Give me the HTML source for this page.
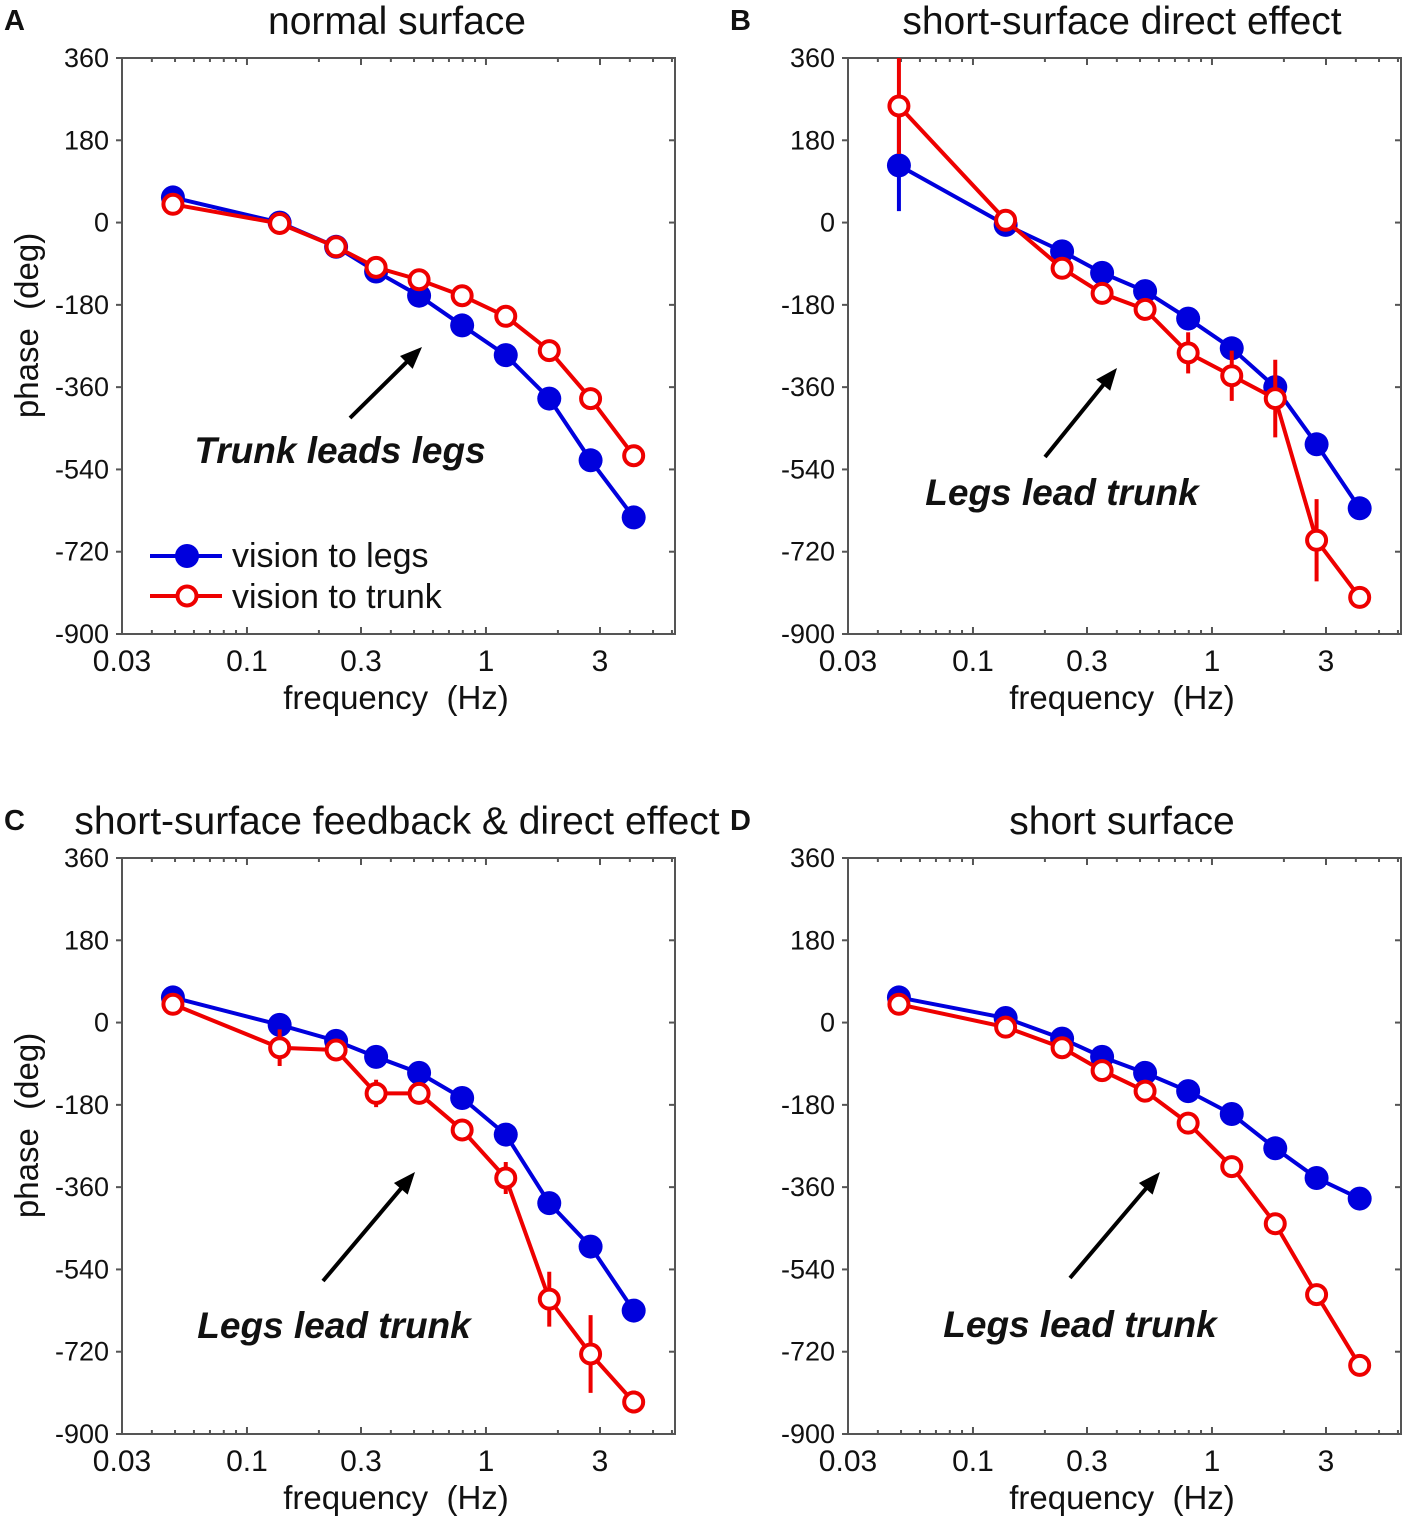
<!DOCTYPE html>
<html><head><meta charset="utf-8">
<style>
body{margin:0;background:#fff;}
svg{display:block;font-family:"Liberation Sans",Arial,sans-serif;}
text{white-space:pre;}
</style></head>
<body>
<svg id="fig" width="1417" height="1531" viewBox="0 0 1417 1531"></svg>
<script>
const freqs=[0.049,0.137,0.236,0.347,0.525,0.795,1.21,1.84,2.74,4.15];
const legsA=[55,0,-53,-107,-160,-225,-290,-385,-520,-645];
const trunkA=[40,-2,-53,-98,-125,-160,-205,-280,-385,-510];
const legsB=[125,-5,-63,-110,-150,-210,-275,-360,-485,-625];
const trunkB=[255,5,-100,-155,-190,-285,-335,-385,-695,-820];
const legsErrB=[100,0,0,0,0,0,0,0,0,0];
const trunkErrB=[105,0,0,0,0,45,55,85,90,0];
const legsC=[55,-5,-40,-75,-110,-165,-245,-395,-490,-630];
const trunkC=[40,-55,-60,-155,-155,-235,-340,-605,-725,-830];
const legsErrC=[0,0,0,0,0,0,0,0,25,0];
const trunkErrC=[0,40,0,30,0,0,35,60,85,25];
const legsD=[55,10,-35,-75,-110,-150,-200,-275,-340,-385];
const trunkD=[40,-10,-55,-105,-150,-220,-315,-440,-595,-750];
const zeros=[0,0,0,0,0,0,0,0,0,0];
const yTicks=[360,180,0,-180,-360,-540,-720,-900];
const xTicks=[0.03,0.1,0.3,1,3];
const xTickLabels=["0.03","0.1","0.3","1","3"];

const NS="http://www.w3.org/2000/svg";
const svg=document.getElementById('fig');
function el(tag,attrs,parent,text){const e=document.createElementNS(NS,tag);for(const k in attrs)e.setAttribute(k,attrs[k]);if(text!==undefined)e.textContent=text;(parent||svg).appendChild(e);return e;}

function panel(cfg){
  const g=el('g',{});
  
  
  const L=cfg.x0,T=cfg.y0,R=L+553,B=T+576;
  const xs=f=>L+239*Math.log10(f/0.03);
  const ys=v=>T+(360-v)*576/1260;
  const box=el('rect',{x:L,y:T,width:R-L,height:B-T,fill:'none',stroke:'#555','stroke-width':2},g);
  
  yTicks.forEach(v=>{
    const y=ys(v);
    el('line',{x1:L-6,x2:L,y1:y,y2:y,stroke:'#555','stroke-width':2},g);
    el('line',{x1:R-6,x2:R,y1:y,y2:y,stroke:'#555','stroke-width':2},g);
    const t=el('text',{x:L-13,y:y+9,'text-anchor':'end','font-size':27,fill:'#111'},g,String(v));
    
  });
  for(let d=0.01;d<10;d*=10){for(let m=1;m<10;m++){const f=d*m;if(f<0.03||f>6.1)continue;const x=xs(f);const major=(m===1||m===3);const len=major?7:4;
    el('line',{x1:x,x2:x,y1:B,y2:B-len,stroke:'#555','stroke-width':2},g);
    el('line',{x1:x,x2:x,y1:T,y2:T+len,stroke:'#555','stroke-width':2},g);}}
  xTicks.forEach((f,i)=>{
    const t=el('text',{x:xs(f),y:B+37,'text-anchor':'middle','font-size':30,fill:'#111'},g,xTickLabels[i]);
    
  });
  const xt=el('text',{x:L+274,y:B+75,'text-anchor':'middle','font-size':33,fill:'#111'},g,'frequency  (Hz)');
  
  if(cfg.ylabel){const yt=el('text',{transform:`translate(${L-84},${ys(-225)}) rotate(-90)`,'text-anchor':'middle','font-size':33,fill:'#111'},g,'phase  (deg)');
    }
  const tt=el('text',{x:cfg.titleX,y:T-24,'text-anchor':'middle','font-size':39,fill:'#111'},g,cfg.title);
  
  const lt=el('text',{x:L-118,y:T-28,'font-size':29,'font-weight':'bold',fill:'#111'},g,cfg.id);
  
  function series(vals,errs,color,filled,name){
    const sg=el('g',{},g);
    
    vals.forEach((v,i)=>{if(errs[i]>0){const e=el('line',{x1:xs(freqs[i]),x2:xs(freqs[i]),y1:Math.max(T,ys(v+errs[i])),y2:ys(v-errs[i]),stroke:color,'stroke-width':4},sg);
      }});
    const pts=vals.map((v,i)=>xs(freqs[i])+','+ys(v)).join(' ');
    const pl=el('polyline',{points:pts,fill:'none',stroke:color,'stroke-width':4},sg);
    
    vals.forEach((v,i)=>{const c=el('circle',{cx:xs(freqs[i]),cy:ys(v),r:filled?12:9.5,fill:filled?color:'#fff',stroke:color,'stroke-width':filled?0:4},sg);
      });
  }
  series(cfg.legs,cfg.legsErr,'#0000dd',true,'legs-series');
  series(cfg.trunk,cfg.trunkErr,'#ee0000',false,'trunk-series');
  const a=cfg.arrow;
  const ag=el('g',{},g);
  const ang=Math.atan2(a[3]-a[1],a[2]-a[0]);
  const hx=a[2]-14*Math.cos(ang),hy=a[3]-14*Math.sin(ang);
  el('line',{x1:a[0],y1:a[1],x2:hx,y2:hy,stroke:'#000','stroke-width':4},ag);
  const p1=[a[2]-22*Math.cos(ang)+9*Math.sin(ang),a[3]-22*Math.sin(ang)-9*Math.cos(ang)];
  const p2=[a[2]-22*Math.cos(ang)-9*Math.sin(ang),a[3]-22*Math.sin(ang)+9*Math.cos(ang)];
  el('polygon',{points:`${a[2]},${a[3]} ${p1} ${p2}`,fill:'#000'},ag);
  const at=el('text',{x:cfg.note[0],y:cfg.note[1],'text-anchor':'middle','font-size':37,'font-weight':'bold','font-style':'italic',fill:'#111'},g,cfg.noteText);
  
  if(cfg.legend){
    const lg=el('g',{},g);
    const e1=el('g',{},lg);
    el('line',{x1:150,x2:222,y1:556,y2:556,stroke:'#0000dd','stroke-width':4},e1);
    el('circle',{cx:187,cy:556,r:12,fill:'#0000dd'},e1);
    el('text',{x:232,y:567,'font-size':34,fill:'#111'},e1,'vision to legs');
    const e2=el('g',{},lg);
    el('line',{x1:150,x2:222,y1:596,y2:596,stroke:'#ee0000','stroke-width':4},e2);
    el('circle',{cx:187,cy:596,r:9.5,fill:'#fff',stroke:'#ee0000','stroke-width':4},e2);
    el('text',{x:232,y:608,'font-size':34,fill:'#111'},e2,'vision to trunk');
  }
}
panel({id:'A',x0:122,y0:58,title:'normal surface',titleX:397,ylabel:true,legs:legsA,trunk:trunkA,legsErr:zeros,trunkErr:zeros,arrow:[350,418,422,347],note:[340,463],noteText:'Trunk leads legs',legend:true});
panel({id:'B',x0:848,y0:58,title:'short-surface direct effect',titleX:1122,ylabel:false,legs:legsB,trunk:trunkB,legsErr:legsErrB,trunkErr:trunkErrB,arrow:[1045,457,1117,368],note:[1062,505],noteText:'Legs lead trunk'});
panel({id:'C',x0:122,y0:858,title:'short-surface feedback & direct effect',titleX:397,ylabel:true,legs:legsC,trunk:trunkC,legsErr:legsErrC,trunkErr:trunkErrC,arrow:[323,1281,415,1172],note:[334,1338],noteText:'Legs lead trunk'});
panel({id:'D',x0:848,y0:858,title:'short surface',titleX:1122,ylabel:false,legs:legsD,trunk:trunkD,legsErr:zeros,trunkErr:zeros,arrow:[1070,1278,1160,1172],note:[1080,1337],noteText:'Legs lead trunk'});
</script>
</body></html>
